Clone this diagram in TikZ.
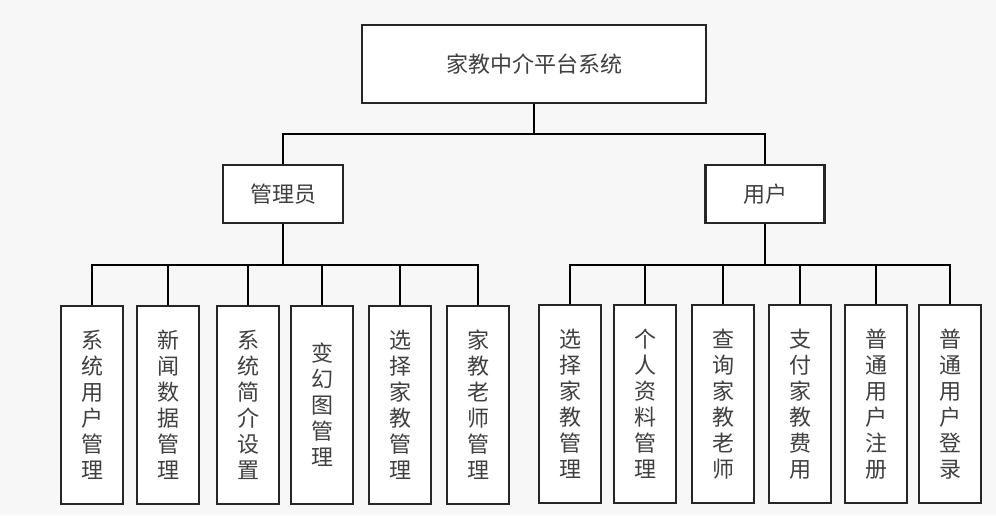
\documentclass[tikz,border=0pt]{standalone}
\usepackage{fontspec}
\setmainfont{Noto Sans CJK SC}
\begin{document}
\begin{tikzpicture}[x=1pt, y=-1pt, line width=2.4pt]
  \tikzset{
    box/.style={draw=black!85, fill=white, text=black!75, inner sep=0pt,
      font=\fontsize{22}{26}\selectfont},
    leaf/.style={box, minimum width=62pt, minimum height=198pt, align=center}
  }
  \useasboundingbox[fill=black!3] (0,0) rectangle (996,515);
  % top level
  \node[box, minimum width=344pt, minimum height=78pt] (root) at (534,64) {家教中介平台系统};
  \node[box, minimum width=120pt, minimum height=58pt] (admin) at (283,194) {管理员};
  \node[box, minimum width=119pt, minimum height=58pt] (user) at (765,194) {用户};
  \coordinate (rootbus) at (534,134);
  \draw (root.south) -- (rootbus) -| (admin.north);
  \draw (rootbus) -| (user.north);
  % admin leaves
  \coordinate (adminbus) at (283,265);
  \draw (admin.south) -- (adminbus);
  \foreach \x/\nm/\txt in {92/sysuser/{系\\统\\用\\户\\管\\理},
      168/news/{新\\闻\\数\\据\\管\\理},
      248/intro/{系\\统\\简\\介\\设\\置},
      322/slides/{变\\幻\\图\\管\\理},
      400/choose/{选\\择\\家\\教\\管\\理},
      478/tutors/{家\\教\\老\\师\\管\\理}} {
    \node[leaf] (\nm) at (\x,405) {\txt};
    \draw (adminbus) -| (\nm.north);
  }
  % user leaves
  \coordinate (userbus) at (765,265);
  \draw (user.south) -- (userbus);
  \foreach \x/\nm/\txt in {570/pick/{选\\择\\家\\教\\管\\理},
      645/profile/{个\\人\\资\\料\\管\\理},
      723/search/{查\\询\\家\\教\\老\\师},
      800/pay/{支\\付\\家\\教\\费\\用},
      876/register/{普\\通\\用\\户\\注\\册},
      950/login/{普\\通\\用\\户\\登\\录}} {
    \node[leaf] (\nm) at (\x,404) {\txt};
    \draw (userbus) -| (\nm.north);
  }
\end{tikzpicture}
\end{document}
